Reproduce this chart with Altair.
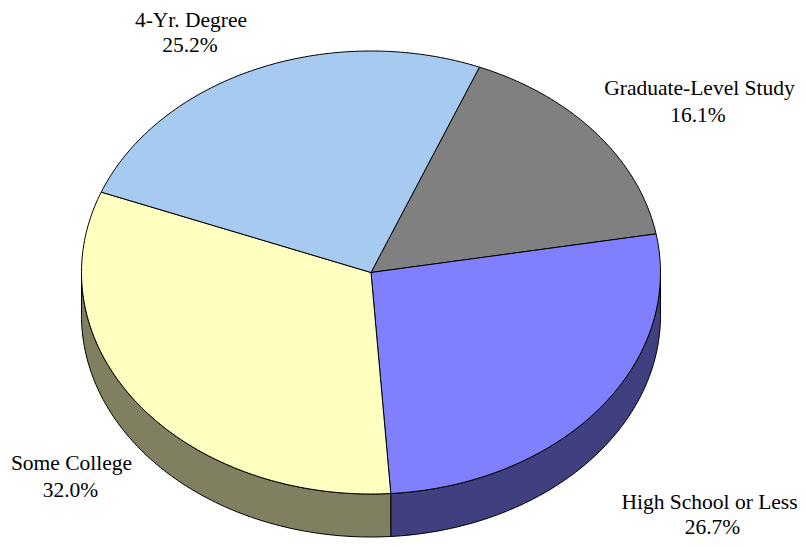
import math
import altair as alt

labels = ["Graduate-Level Study", "High School or Less", "Some College", "4-Yr. Degree"]
percents = [16.1, 26.7, 32.0, 25.2]
top_colors = ["#808080", "#8080ff", "#ffffc0", "#a6caf0"]
side_colors = ["#404040", "#404080", "#808060", "#536578"]

START_DEG = 22.0
A, B, DEPTH = 289.5, 221.5, 43.0
CX, CY = 371.0, 272.5
TILT, D = B / A, DEPTH / A
STEP = 1.0


def pt(deg, drop=0.0):
    r = math.radians(deg)
    return [math.sin(r), math.cos(r) * TILT - drop]


def arc(a0, a1):
    n = max(2, int(abs(a1 - a0) / STEP) + 1)
    return [a0 + (a1 - a0) * i / (n - 1) for i in range(n)]


features = []
tops = []
angle = START_DEG
for name, pct, top, side in zip(labels, percents, top_colors, side_colors):
    a0, a1 = angle, angle + pct * 3.6
    angle = a1
    tops.append({"type": "Feature", "properties": {"name": name, "fill": top},
                 "geometry": {"type": "Polygon", "coordinates": [
                     [[0.0, 0.0]] + [pt(a) for a in arc(a0, a1)] + [[0.0, 0.0]]]}})
    v0, v1 = max(a0, 90.0), min(a1, 270.0)
    if v1 > v0:
        upper = [pt(a) for a in arc(v0, v1)]
        lower = [pt(a, D) for a in arc(v1, v0)]
        features.append({"type": "Feature", "properties": {"name": name + " side", "fill": side},
                         "geometry": {"type": "Polygon", "coordinates": [upper + lower + [upper[0]]]}})
features += tops

slices = (
    alt.Chart(alt.InlineData(values={"type": "FeatureCollection", "features": features},
                             format=alt.DataFormat(property="features", type="json")))
    .mark_geoshape(stroke="black", strokeWidth=1)
    .encode(color=alt.Color("properties.fill:N", scale=None, legend=None))
    .project(type="identity", reflectY=True, scale=A, translate=[CX - 8, CY - 8])
)

# label anchors on the page: name centre x, percent centre x, first baseline, second baseline
placement = {
    "Graduate-Level Study": (699.5, 698, 95, 122),
    "High School or Less": (709.5, 712.5, 509, 534),
    "Some College": (71.5, 70.5, 470, 497),
    "4-Yr. Degree": (191, 190, 27, 52),
}

layers = [slices]
for name, pct in zip(labels, percents):
    x1, x2, y1, y2 = placement[name]
    for text, x, y in ((name, x1, y1), (f"{pct:.1f}%", x2, y2)):
        layers.append(
            alt.Chart(alt.Data(values=[{"t": text}]))
            .mark_text(font="Liberation Serif", fontSize=21.5, color="black", align="center", baseline="alphabetic")
            .encode(text="t:N", x=alt.value(x - 8), y=alt.value(y - 8))
        )

chart = (
    alt.layer(*layers)
    .properties(width=790, height=531, padding=0, background="white",
                autosize=alt.AutoSizeParams(type="none"))
    .configure_view(stroke=None)
)
chart.save("out.html", embed_options={"renderer": "svg", "actions": False})
